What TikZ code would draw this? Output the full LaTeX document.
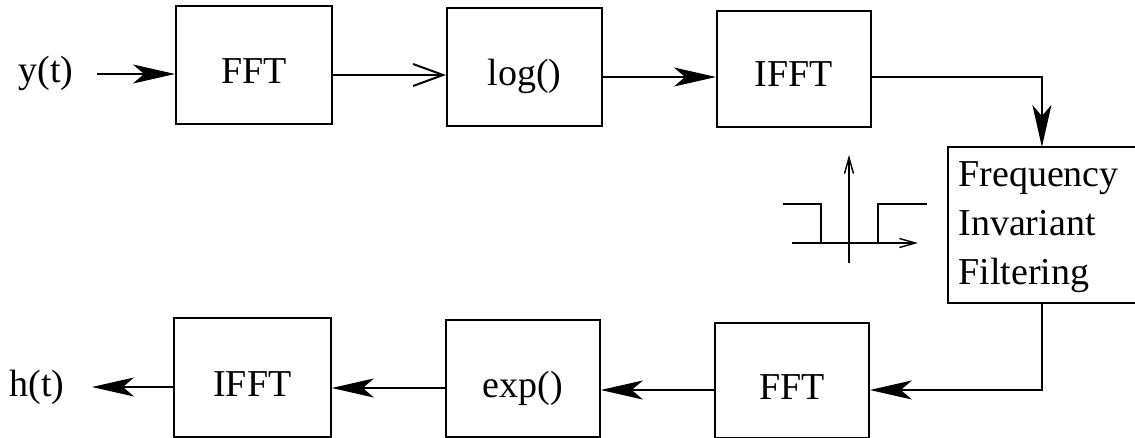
\documentclass[tikz,border=0pt]{standalone}
\usepackage{fontspec}
\setmainfont{Liberation Serif}
\usetikzlibrary{arrows.meta}

\begin{document}
\begin{tikzpicture}[x=0.5pt,y=-0.5pt,
  font=\fontsize{19}{24.5}\selectfont,
  lbl/.style={inner sep=0pt},
  blk/.style={draw, line width=0.9pt, inner xsep=0pt, inner ysep=0pt, anchor=north west},
  conn/.style={line width=1pt},
  solidtip/.style={-{Stealth[length=21pt,width=9.5pt,inset=5.5pt]}},
  barbtip/.style={-{Straight Barb[length=15pt,width=11pt,line width=1pt]}},
  axis/.style={line width=0.7pt},
  axistip/.style={-{Straight Barb[length=8pt,width=4.5pt,line width=0.7pt]}}]

\useasboundingbox (0,0) rectangle (1135,438);

% signal levels of the horizontal connectors
\coordinate (lvA) at (0,75);
\coordinate (lvB) at (0,77);
\coordinate (lvC) at (0,390);
\coordinate (lvD) at (0,388);
\coordinate (lvE) at (0,387);

% forward path
\node[lbl, anchor=base] (yt) at (46,83) {y(t)};
\coordinate (yin) at (97,74);
\node[blk, minimum width=78pt, text height=39pt, text depth=20pt] (fft1) at (175,5) {FFT};
\node[blk, minimum width=77.5pt, text height=39pt, text depth=20pt] (log) at (446,7) {log()};
\node[blk, minimum width=77pt, text height=38pt, text depth=20pt] (ifft1) at (716,10) {IFFT};

% liftering stage
\node[inner sep=0pt, minimum width=93.5pt, minimum height=77.5pt, anchor=north west] (flt) at (948,147) {};
\draw[line width=0.9pt] (flt.north east) -- (flt.north west) -- (flt.south west) -- (flt.south east);
\node[lbl, anchor=north west, align=left] (fltlbl) at (958,161) {Frequency\\Invariant\\Filtering};

% return path
\node[blk, minimum width=78.5pt, text height=39.5pt, text depth=20pt] (ifft2) at (173,317) {IFFT};
\node[blk, minimum width=77pt, text height=39pt, text depth=19.5pt] (exp) at (445,319) {exp()};
\node[blk, minimum width=77pt, text height=38.5pt, text depth=19pt] (fft2) at (714,322) {FFT};
\node[lbl, anchor=base] (ht) at (37,396) {h(t)};
\coordinate (hout) at (92,387);

% connectors
\draw[conn, solidtip] (yin) -- (fft1.west |- yin);
\draw[conn, barbtip] (fft1.east |- lvA) -- (log.west |- lvA);
\draw[conn, solidtip] (log.east |- lvB) -- (ifft1.west |- lvB);
\draw[conn, solidtip] (ifft1.east |- lvB) -| (flt.north);
\draw[conn, solidtip] (flt.south) |- (fft2.east |- lvC);
\draw[conn, solidtip] (fft2.west |- lvC) -- (exp.east |- lvC);
\draw[conn, solidtip] (exp.west |- lvD) -- (ifft2.east |- lvD);
\draw[conn, solidtip] (ifft2.west |- lvE) -- (hout);

% lifter window sketch
\draw[axis, axistip] (849,263) -- (849,155);
\draw[axis, axistip] (792,243) -- (918,243);
\draw[axis] (783,204) -- (821,204) -- (821,243);
\draw[axis] (878,243) -- (878,204) -- (927,204);

\end{tikzpicture}
\end{document}
